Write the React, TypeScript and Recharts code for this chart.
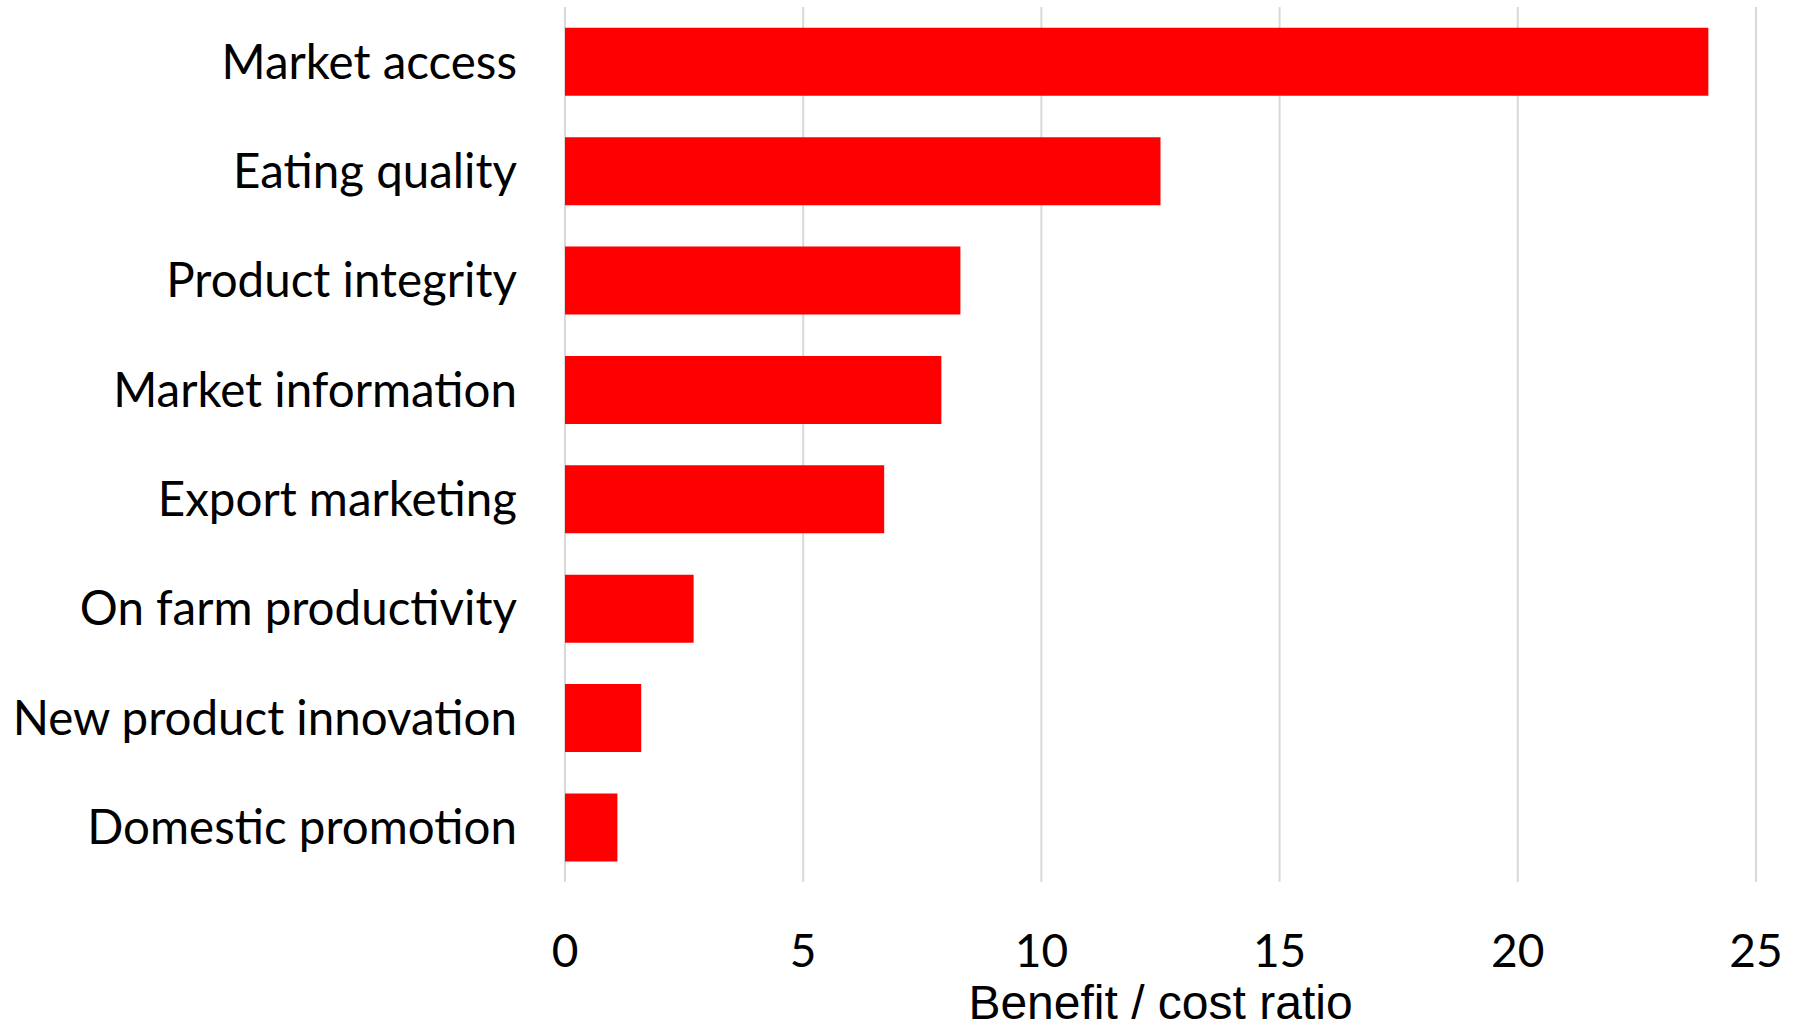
import { BarChart, Bar, XAxis, YAxis, CartesianGrid } from "recharts";

const categories = [
    "Market access",
    "Eating quality",
    "Product integrity",
    "Market information",
    "Export marketing",
    "On farm productivity",
    "New product innovation",
    "Domestic promotion",
];
const ratios = [24, 12.5, 8.3, 7.9, 6.7, 2.7, 1.6, 1.1];
const xTicks = [0, 5, 10, 15, 20, 25];

const data = categories.map((name, i) => ({ name, ratio: ratios[i] }));

const labelFont = "Lato, 'Open Sans', sans-serif";

export default function App() {
    return (
        <div style={{ position: "absolute", left: 0, top: 0, background: "#fff" }}>
            <BarChart
                width={1800}
                height={1031}
                data={data}
                layout="vertical"
                margin={{ top: 7, right: 44, bottom: 0, left: 0 }}
                barCategoryGap="19%"
            >
                <CartesianGrid horizontal={false} stroke="#d9d9d9" strokeWidth={2} />
                <XAxis
                    type="number"
                    domain={[0, 25]}
                    ticks={xTicks}
                    axisLine={false}
                    tickLine={false}
                    tickSize={0}
                    tickMargin={52}
                    height={149}
                    tick={{ fontSize: 46, fill: "#000", fontFamily: labelFont }}
                    label={{
                        value: "Benefit / cost ratio",
                        position: "insideBottom",
                        offset: 12,
                        fontSize: 48,
                        fill: "#000",
                        fontFamily: "'Liberation Sans', Arial, sans-serif",
                    }}
                />
                <YAxis
                    type="category"
                    dataKey="name"
                    width={565}
                    axisLine={false}
                    tickLine={false}
                    tickSize={0}
                    tickMargin={48}
                    interval={0}
                    tick={{ fontSize: 47.5, fill: "#000", fontFamily: labelFont }}
                />
                <Bar dataKey="ratio" fill="#ff0000" isAnimationActive={false} />
            </BarChart>
        </div>
    );
}
